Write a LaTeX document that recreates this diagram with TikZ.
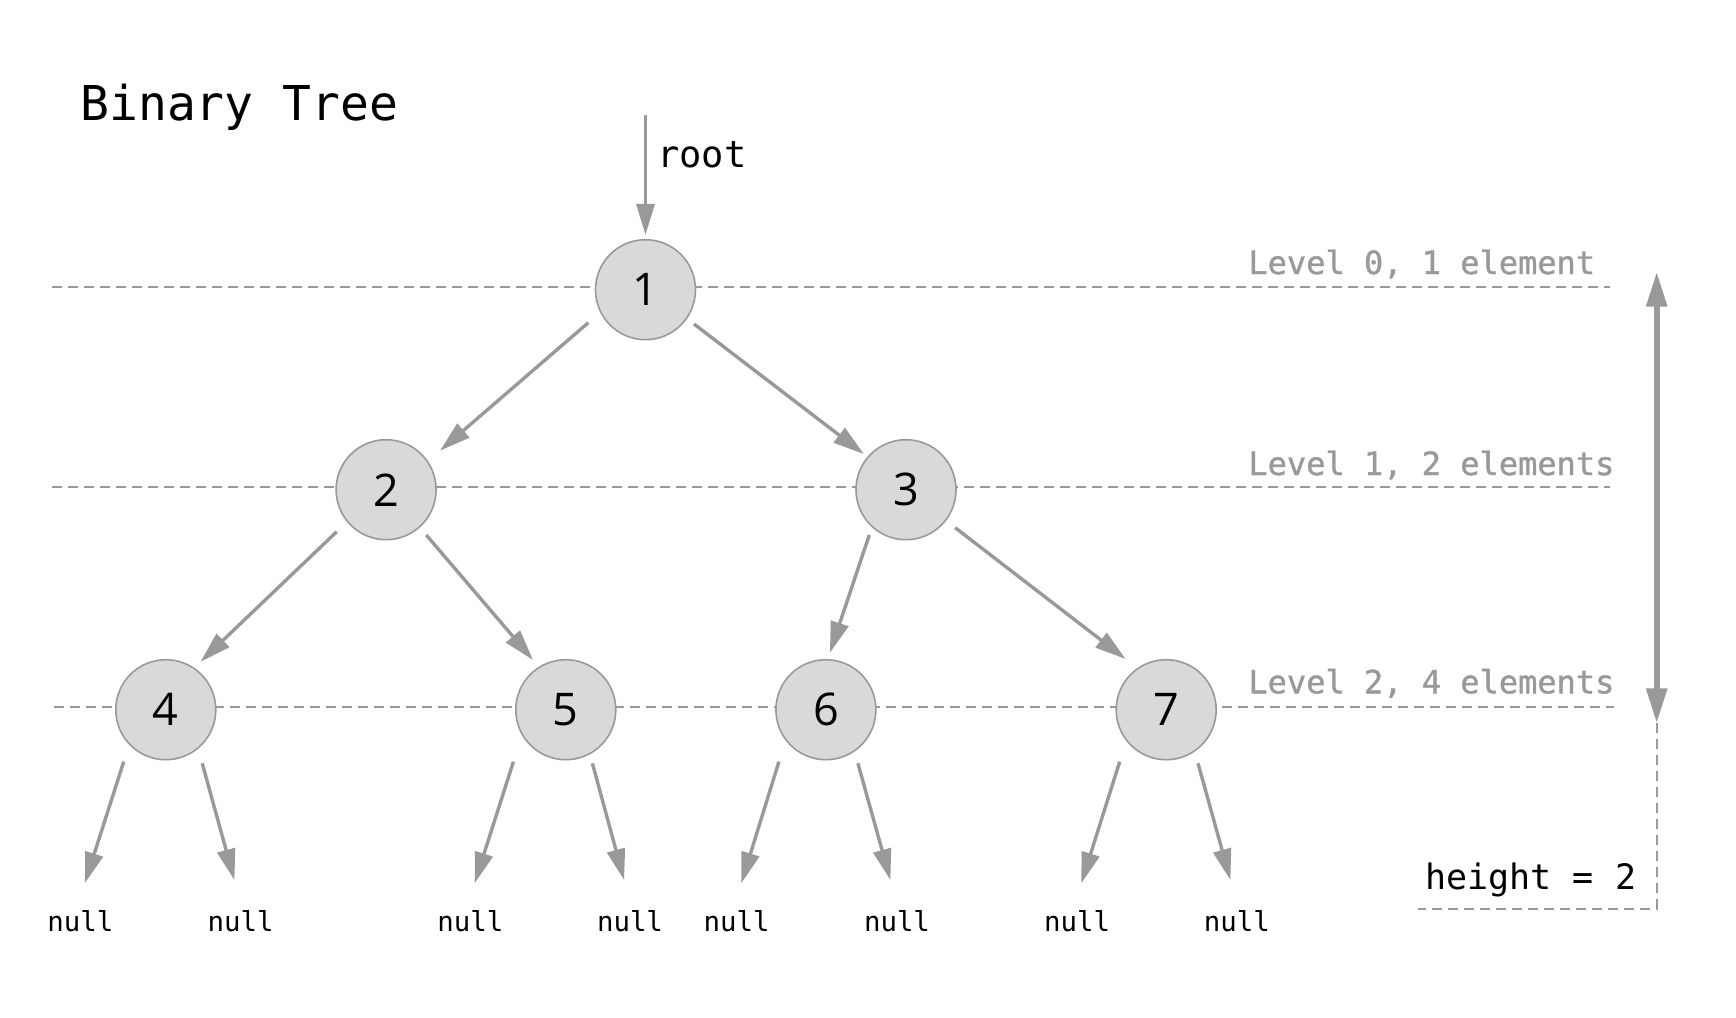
\documentclass[tikz,border=0pt]{standalone}
\usepackage{fontspec}
\setmainfont{DejaVu Sans Mono}
\newfontfamily\digitfont{Open Sans}
\newfontfamily\lvlfont[FakeBold=1.2]{DejaVu Sans Mono}
\usetikzlibrary{arrows.meta,calc}
\definecolor{lg}{HTML}{999999}
\definecolor{nodefill}{HTML}{D9D9D9}
\tikzset{
  tnode/.style={circle,draw=lg,fill=nodefill,line width=0.8pt,minimum size=50pt,inner sep=0pt,
    font=\digitfont\fontsize{22.5}{27}\selectfont},
  edge/.style={draw=lg,line width=1.7pt,-{Triangle[length=15.5pt,width=9pt]}},
  lvl/.style={draw=lg,line width=0.8pt,dash pattern=on 5pt off 3pt},
  lvltext/.style={anchor=base west,inner sep=0pt,text=lg,font=\lvlfont\fontsize{16}{19}\selectfont},
  nulltext/.style={anchor=base,inner sep=0pt,font=\fontsize{13.7}{16}\selectfont},
}
\begin{document}
\begin{tikzpicture}[x=0.5pt,y=-0.5pt]
\useasboundingbox (0,0) rectangle (1736,1018);

% title
\node[anchor=base west,inner sep=0pt,font=\fontsize{24}{29}\selectfont] (title) at (80,120) {Binary Tree};

% level lines
\coordinate (l0a) at (52,286.7);  \coordinate (l0b) at (1610,286.7);
\coordinate (l1a) at (52,486.7);  \coordinate (l1b) at (1610,486.7);
\coordinate (l2a) at (54,706.7);  \coordinate (l2b) at (1614,706.7);
\draw[lvl] (l0a) -- (l0b);
\draw[lvl] (l1a) -- (l1b);
\draw[lvl] (l2a) -- (l2b);

\node[lvltext] (lv0) at (1248,274) {Level 0, 1 element};
\node[lvltext] (lv1) at (1248,475) {Level 1, 2 elements};
\node[lvltext] (lv2) at (1248,693.3) {Level 2, 4 elements};

% tree nodes
\node[tnode] (n1) at (645.5,289.7) {1};
\node[tnode] (n2) at (386.1,489.7) {2};
\node[tnode] (n3) at (906,489.7) {3};
\node[tnode] (n4) at (165.8,709.7) {4};
\node[tnode] (n5) at (565.8,709.7) {5};
\node[tnode] (n6) at (825.9,709.7) {6};
\node[tnode] (n7) at (1166.2,709.7) {7};

% root pointer
\coordinate (rtop) at (645.5,115);
\draw[edge] (rtop) -- ($(n1.north)+(0,-4)$);
\node[anchor=base west,inner sep=0pt,font=\fontsize{18.5}{22}\selectfont] (rootlbl) at (657,167) {root};

% internal edges
\draw[edge] ($(n1)+(-57.2,33)$) -- ($(n2)+(53.9,-39)$);
\draw[edge] ($(n1)+(48.5,34.3)$) -- ($(n3)+(-42.2,-35.7)$);
\draw[edge] ($(n2)+(-49.4,42)$) -- ($(n4)+(34.8,-48)$);
\draw[edge] ($(n2)+(40.2,45.3)$) -- ($(n5)+(-32.8,-49.7)$);
\draw[edge] ($(n3)+(-36.7,45.3)$) -- ($(n6)+(4,-57)$);
\draw[edge] ($(n3)+(49.2,38)$) -- ($(n7)+(-40.6,-50.7)$);

% null labels
\node[nulltext] (z1) at (80.4,931.7) {null};
\node[nulltext] (z2) at (240.6,931.7) {null};
\node[nulltext] (z3) at (470.3,931.7) {null};
\node[nulltext] (z4) at (630,931.7) {null};
\node[nulltext] (z5) at (736.7,931.7) {null};
\node[nulltext] (z6) at (897,931.7) {null};
\node[nulltext] (z7) at (1077,931.7) {null};
\node[nulltext] (z8) at (1236.9,931.7) {null};

% null arrow tips
\coordinate (t1) at (84.8,883.3);   \coordinate (t2) at (234.4,880);
\coordinate (t3) at (474.6,883.3);  \coordinate (t4) at (624.1,880);
\coordinate (t5) at (741.3,883.3);  \coordinate (t6) at (890.4,880);
\coordinate (t7) at (1081.3,883.3); \coordinate (t8) at (1230.4,880);

\draw[edge] ($(n4)+(-42.1,52)$) -- (t1);
\draw[edge] ($(n4)+(36.4,53.6)$) -- (t2);
\draw[edge] ($(n5)+(-52.4,52)$) -- (t3);
\draw[edge] ($(n5)+(26.6,53.6)$) -- (t4);
\draw[edge] ($(n6)+(-47,52)$) -- (t5);
\draw[edge] ($(n6)+(32,53.6)$) -- (t6);
\draw[edge] ($(n7)+(-46.5,52)$) -- (t7);
\draw[edge] ($(n7)+(31.8,53.6)$) -- (t8);

% height indicator
\coordinate (htop) at (1656.7,271.7);
\coordinate (hbot) at (1656.7,723.3);
\coordinate (hcorner) at (1656.7,908.7);
\coordinate (hleft) at (1418.3,908.7);
\draw[draw=lg,line width=3pt,{Triangle[length=17.5pt,width=10pt]}-{Triangle[length=17.5pt,width=10pt]}] (htop) -- (hbot);
\draw[lvl] (hbot) -- (hcorner) -- (hleft);
\node[anchor=base west,inner sep=0pt,font=\fontsize{17.5}{21}\selectfont] (hlbl) at (1425,889.3) {height = 2};

\end{tikzpicture}
\end{document}
